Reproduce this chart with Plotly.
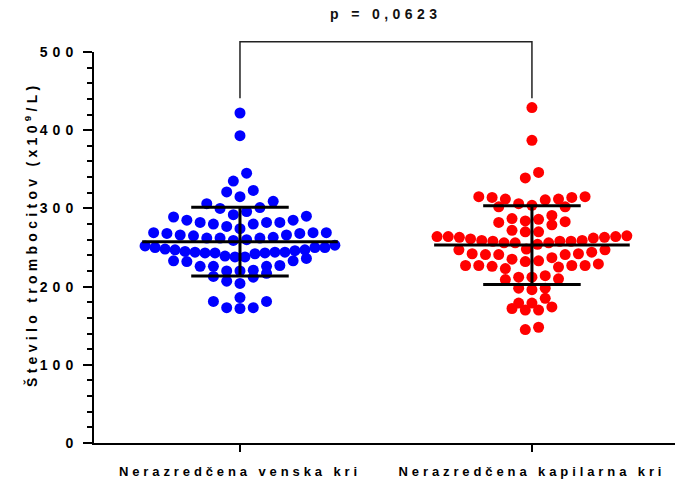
import numpy as np
import plotly.graph_objects as go

# ---- data -----------------------------------------------------------------
categories = ["Nerazredčena venska kri", "Nerazredčena kapilarna kri"]

venska = [422, 393, 345, 335, 323, 321, 315, 309, 306, 301, 300, 296, 292,
          290, 289, 285, 285, 282, 282, 282, 280, 280, 277, 274,
          269, 269, 269, 268, 268, 266, 266, 265, 263, 262, 262, 262, 260, 259,
          253, 252, 250, 250, 250, 248, 247, 247, 246, 245, 244, 244, 244, 243,
          243, 243, 242, 239, 238, 238,
          236, 233, 233, 232, 227, 226, 226, 226, 221, 220, 220, 217,
          213, 212, 207, 204, 186, 181, 181, 173, 173, 172]

kapilarna = [429, 387, 346, 339,
             315, 315, 314, 314, 312, 312, 311, 306, 304, 302, 302,
             291, 287, 286, 284, 283, 282, 279, 272, 270, 270,
             265, 264, 264, 264, 263, 263, 262, 261, 259, 259, 258, 258, 258,
             256, 256, 256, 254, 248,
             247, 247, 244, 242, 242, 241, 241, 241, 237, 235, 233, 232,
             229, 227, 227, 227, 227, 226, 225, 223,
             214, 212, 212, 210, 209, 198, 198, 196,
             185, 179, 179, 174, 172, 170, 170, 148, 145]

p_text = "p = 0,0623"
y_ticks = [0, 100, 200, 300, 400, 500]

# ---- styling ----------------------------------------------------------------
FONT = "Liberation Sans, Arial, sans-serif"
X_RANGE = [-0.5, 1.49]
Y_RANGE = [0, 500]


def spaced(text, px):
    return f'<span style="letter-spacing:{px}px">{text}</span>'


def swarm_offsets(values, origin, bin_h, step, max_half):
    """Row-binned scatter layout: values in the same bin share a row and are
    spread symmetrically, lowest values in the middle."""
    vals = np.asarray(values, dtype=float)
    bins = np.floor((vals - origin) / bin_h).astype(int)
    offs = np.zeros(len(vals))
    for b in np.unique(bins):
        idx = np.where(bins == b)[0]
        idx = idx[np.argsort(vals[idx], kind="stable")]
        n = len(idx)
        s = step
        if n > 1 and (n - 1) * step / 2 > max_half:
            s = 2 * max_half / (n - 1)
        if n % 2:
            slots = [0] + [v for k in range(1, n // 2 + 1) for v in (-k, k)]
        else:
            slots = [v for k in range(n // 2) for v in (-(k + 0.5), k + 0.5)]
        offs[idx] = np.array(slots[:n]) * s
    return offs


groups = [
    (venska, "#0000FF", 237.3),
    (kapilarna, "#FF0000", 247.5),
]

fig = go.Figure()

for i, (vals, colour, origin) in enumerate(groups):
    x = i + swarm_offsets(vals, origin, 18.2, 0.0455, 0.325)
    fig.add_trace(go.Scatter(
        x=x, y=vals, mode="markers",
        marker=dict(size=11, color=colour, line=dict(width=0)),
        cliponaxis=False, showlegend=False, hoverinfo="y",
    ))

# mean line and ±SD whiskers
for i, (vals, _, _) in enumerate(groups):
    m = float(np.mean(vals))
    sd = float(np.std(vals, ddof=1))
    fig.add_trace(go.Scatter(
        x=[i - 0.335, i + 0.335], y=[m, m], mode="lines",
        line=dict(color="black", width=3), showlegend=False, hoverinfo="skip",
    ))
    fig.add_trace(go.Scatter(
        x=[i - 0.167, i + 0.167, None, i, i, None, i - 0.167, i + 0.167],
        y=[m + sd, m + sd, None, m + sd, m - sd, None, m - sd, m - sd],
        mode="lines", line=dict(color="black", width=3),
        showlegend=False, hoverinfo="skip",
    ))

# significance bracket above the groups
br_top, br_foot = 513, 441
ymax = Y_RANGE[1]
bracket = dict(type="path", xref="x", yref="paper",
               path=f"M 0,{br_foot / ymax} L 0,{br_top / ymax} "
                    f"L 1,{br_top / ymax} L 1,{br_foot / ymax}",
               line=dict(color="#222222", width=1.5))

fig.update_layout(
    width=675, height=479,
    margin=dict(l=94, r=0, t=52, b=36),
    paper_bgcolor="white", plot_bgcolor="white",
    font=dict(family=FONT, color="black", size=13, weight="bold"),
    shapes=[bracket],
    annotations=[
        dict(text=spaced(p_text, 4.4), xref="x", yref="paper", x=0.5, y=1.097,
             showarrow=False, xanchor="center", yanchor="middle",
             font=dict(family=FONT, size=14, color="#111111", weight="bold")),
        dict(text=spaced("Število trombocitov (x10<sup>9</sup>/L)", 4.3),
             xref="paper", yref="paper", x=(31 - 94) / 581, y=(443 - 234) / 391,
             textangle=-90, showarrow=False, xanchor="center", yanchor="middle",
             font=dict(family=FONT, size=14, color="black", weight="bold")),
    ],
    xaxis=dict(
        range=X_RANGE, tickvals=[0, 1],
        ticktext=[spaced(c, 3.9) for c in categories],
        showline=True, linecolor="black", linewidth=2,
        ticks="outside", ticklen=7, tickwidth=2, tickcolor="black",
        ticklabelstandoff=8,
        showgrid=False, zeroline=False,
        tickfont=dict(family=FONT, size=13, color="black", weight="bold"),
    ),
    yaxis=dict(
        range=Y_RANGE, tickvals=y_ticks,
        ticktext=[spaced(str(t), 5.0) for t in y_ticks],
        showline=True, linecolor="black", linewidth=2,
        ticks="outside", ticklen=9, tickwidth=2, tickcolor="black",
        ticklabelstandoff=2,
        minor=dict(dtick=20, ticks="outside", ticklen=5, tickwidth=2,
                   tickcolor="black", showgrid=False),
        showgrid=False, zeroline=False,
        tickfont=dict(family=FONT, size=14, color="black", weight="bold"),
    ),
)

fig.write_html("out.html")
